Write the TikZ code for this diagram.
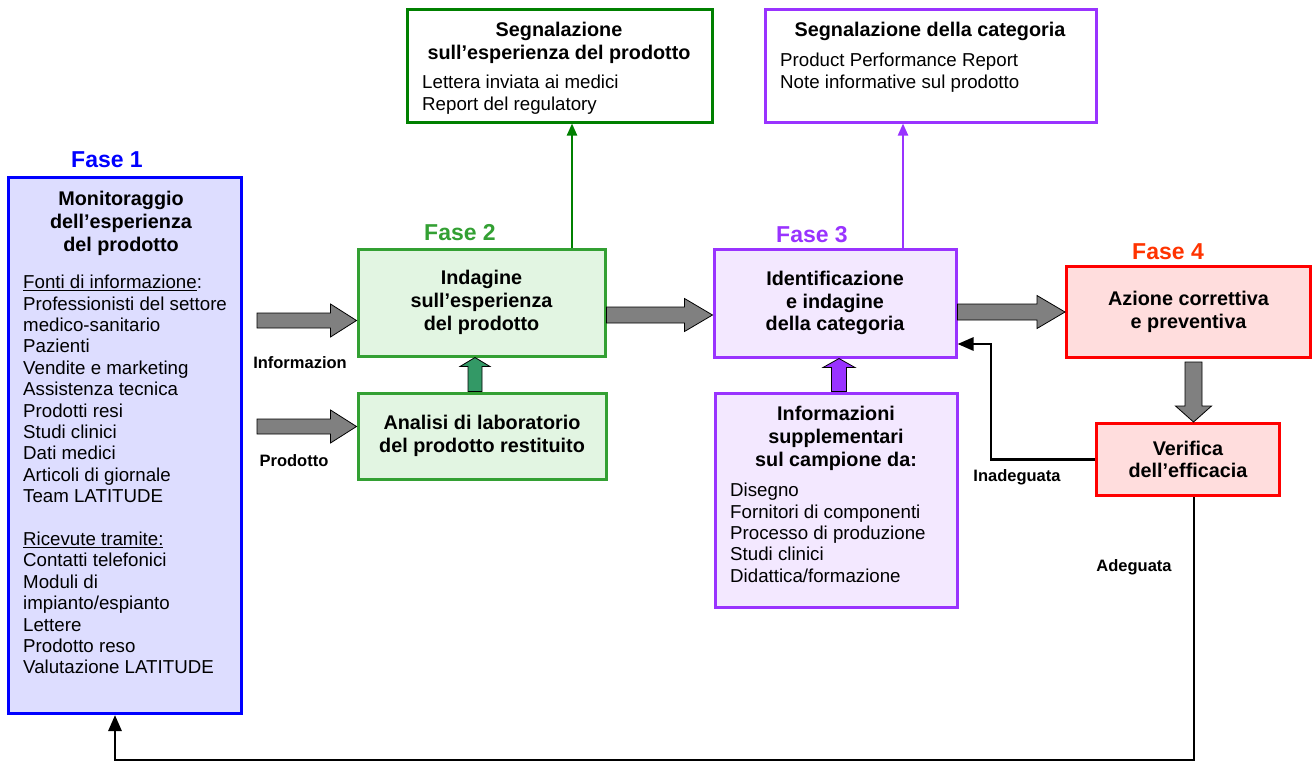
\documentclass[tikz,border=0pt]{standalone}
\usepackage{fontspec}
\setmainfont{Liberation Sans}
\usetikzlibrary{positioning,arrows.meta,calc}
\definecolor{faseBlue}{RGB}{0,0,255}
\definecolor{monFill}{RGB}{221,221,255}
\definecolor{faseGreen}{RGB}{51,160,51}
\definecolor{indFill}{RGB}{226,245,226}
\definecolor{repGreen}{RGB}{0,128,0}
\definecolor{fasePurple}{RGB}{153,51,255}
\definecolor{ideFill}{RGB}{243,232,255}
\definecolor{faseRed}{RGB}{255,0,0}
\definecolor{azFill}{RGB}{255,221,221}
\definecolor{faseOrange}{RGB}{255,51,0}
\definecolor{arrGray}{RGB}{128,128,128}
\definecolor{arrTeal}{RGB}{51,153,102}
\newcommand{\bodyfont}{\fontsize{18.7}{21.4}\selectfont}
\newcommand{\headfont}{\fontsize{19.8}{22.8}\selectfont\bfseries}

\begin{document}
\begin{tikzpicture}[x=1pt, y=-1pt,
  box/.style={rectangle, line width=3pt, inner sep=0pt, align=center, font=\headfont},
  ttl/.style={inner sep=0pt, align=center, font=\headfont, anchor=north},
  txt/.style={inner sep=0pt, align=left, font=\bodyfont, anchor=north west},
  fase/.style={inner sep=0pt, font=\fontsize{23}{26}\selectfont\bfseries},
  lbl/.style={inner sep=0pt, font=\fontsize{16.5}{19}\selectfont\bfseries},
  bigarrow/.style n args={3}{draw=black, line width=0.8pt, to path={
    -- ($(\tikztostart)!#1!90:(\tikztotarget)$)
    -- ($($(\tikztotarget)!#3!(\tikztostart)$)!#1!90:(\tikztotarget)$)
    -- ($($(\tikztotarget)!#3!(\tikztostart)$)!#2!90:(\tikztotarget)$)
    -- (\tikztotarget)
    -- ($($(\tikztotarget)!#3!(\tikztostart)$)!#2!-90:(\tikztotarget)$)
    -- ($($(\tikztotarget)!#3!(\tikztostart)$)!#1!-90:(\tikztotarget)$)
    -- ($(\tikztostart)!#1!-90:(\tikztotarget)$)
    -- cycle}},
  fb/.style={line width=2.8pt, -{Triangle[length=16pt,width=13pt]}},
  rep/.style={line width=2.2pt, -{Triangle[length=12pt,width=10pt]}}
]
\useasboundingbox (0,0) rectangle (1313,763);

% Fase 1
\node[fase, text=faseBlue] (F1) at (107,160) {Fase 1};
\node[box, draw=faseBlue, fill=monFill, minimum width=233pt, minimum height=536pt] (Mon) at (125,445.5) {};
\node[ttl] (MonT) at (121,191) {Monitoraggio\\dell’esperienza\\del prodotto};
\node[txt] (MonL) at (23,275) {\underline{Fonti di informazione}:\\Professionisti del settore\\medico-sanitario\\Pazienti\\Vendite e marketing\\Assistenza tecnica\\Prodotti resi\\Studi clinici\\Dati medici\\Articoli di giornale\\Team LATITUDE\\[21.4pt]\underline{Ricevute tramite:}\\Contatti telefonici\\Moduli di\\impianto/espianto\\Lettere\\Prodotto reso\\Valutazione LATITUDE};

% Fase 2
\node[fase, text=faseGreen] (F2) at (460,233) {Fase 2};
\node[box, draw=faseGreen, fill=indFill, minimum width=247pt, minimum height=107pt] (Ind) at (481.5,302.5) {Indagine\\sull’esperienza\\del prodotto};
\node[box, draw=faseGreen, fill=indFill, minimum width=248pt, minimum height=86pt] (Lab) at (482,436) {Analisi di laboratorio\\del prodotto restituito};
\node[box, draw=repGreen, fill=white, minimum width=305pt, minimum height=113pt] (SegP) at (559.5,65.5) {};
\node[ttl] (SegPT) at (559,22) {Segnalazione\\sull’esperienza del prodotto};
\node[txt] (SegPL) at (422,75) {Lettera inviata ai medici\\Report del regulatory};

% Fase 3
\node[fase, text=fasePurple] (F3) at (812,235) {Fase 3};
\node[box, draw=fasePurple, fill=ideFill, minimum width=242pt, minimum height=108pt] (Ide) at (835,303) {Identificazione\\e indagine\\della categoria};
\node[box, draw=fasePurple, fill=ideFill, minimum width=242pt, minimum height=214pt] (Sup) at (836,500) {};
\node[ttl] (SupT) at (836,406) {Informazioni\\supplementari\\sul campione da:};
\node[txt] (SupL) at (730,483) {Disegno\\Fornitori di componenti\\Processo di produzione\\Studi clinici\\Didattica/formazione};
\node[box, draw=fasePurple, fill=white, minimum width=331pt, minimum height=113pt] (SegC) at (930.5,65.5) {};
\node[ttl] (SegCT) at (930,22) {Segnalazione della categoria};
\node[txt] (SegCL) at (780,53) {Product Performance Report\\Note informative sul prodotto};

% Fase 4
\node[fase, text=faseOrange] (F4) at (1168,252) {Fase 4};
\node[box, draw=faseRed, fill=azFill, minimum width=244pt, minimum height=91pt] (Az) at (1188.5,312) {Azione correttiva\\e preventiva};
\node[box, draw=faseRed, fill=azFill, minimum width=183pt, minimum height=72pt] (Ver) at (1188,459.5) {Verifica\\dell’efficacia};

\coordinate (srcInfo) at (257,320.5);
\coordinate (srcProd) at (257,426.5);
\coordinate (repG) at (572,0);
\coordinate (repP) at (903,0);
\coordinate (fbBend) at (991,344);
\coordinate (fbDown) at (1194,0);
\coordinate (fbCorner) at (115,760);

\foreach \s in {srcInfo,srcProd}
  \draw[bigarrow={7.5pt}{16.5pt}{26pt}, fill=arrGray] (\s) to (\s -| Ind.west);
\node[lbl] (LInfo) at (300,363) {Informazion};
\node[lbl] (LProd) at (294,461) {Prodotto};

\draw[bigarrow={8pt}{16.5pt}{28pt}, fill=arrGray] ([yshift=-12.5pt]Ind.east) to ([yshift=-12.5pt]Ind.east -| Ide.west);
\draw[bigarrow={8pt}{16.5pt}{28pt}, fill=arrGray] (Ide.east |- Az.west) to (Az.west);
\draw[bigarrow={8.5pt}{18pt}{16pt}, fill=arrGray] ([xshift=5pt,yshift=-3pt]Az.south) to ([xshift=5pt]Az.south |- Ver.north);
\draw[bigarrow={7pt}{15pt}{9pt}, fill=arrTeal] ([xshift=-7pt]Lab.north) to ([xshift=-7pt]Lab.north |- Ind.south);
\draw[bigarrow={7.5pt}{16pt}{9pt}, fill=fasePurple] ([xshift=3pt]Sup.north) to ([xshift=3pt]Sup.north |- Ide.south);

\draw[rep, repGreen] (Ind.north -| repG) -- (SegP.south -| repG);
\draw[rep, fasePurple] (Ide.north -| repP) -- (SegC.south -| repP);

\draw[fb] (Ver.west) -| (fbBend) -- (fbBend -| Ide.east);
\draw[fb] (Ver.south -| fbDown) |- (fbCorner) -- (fbCorner |- Mon.south);
\node[lbl] (LInad) at (1017,477) {Inadeguata};
\node[lbl] (LAdeg) at (1134,567) {Adeguata};
\end{tikzpicture}
\end{document}
